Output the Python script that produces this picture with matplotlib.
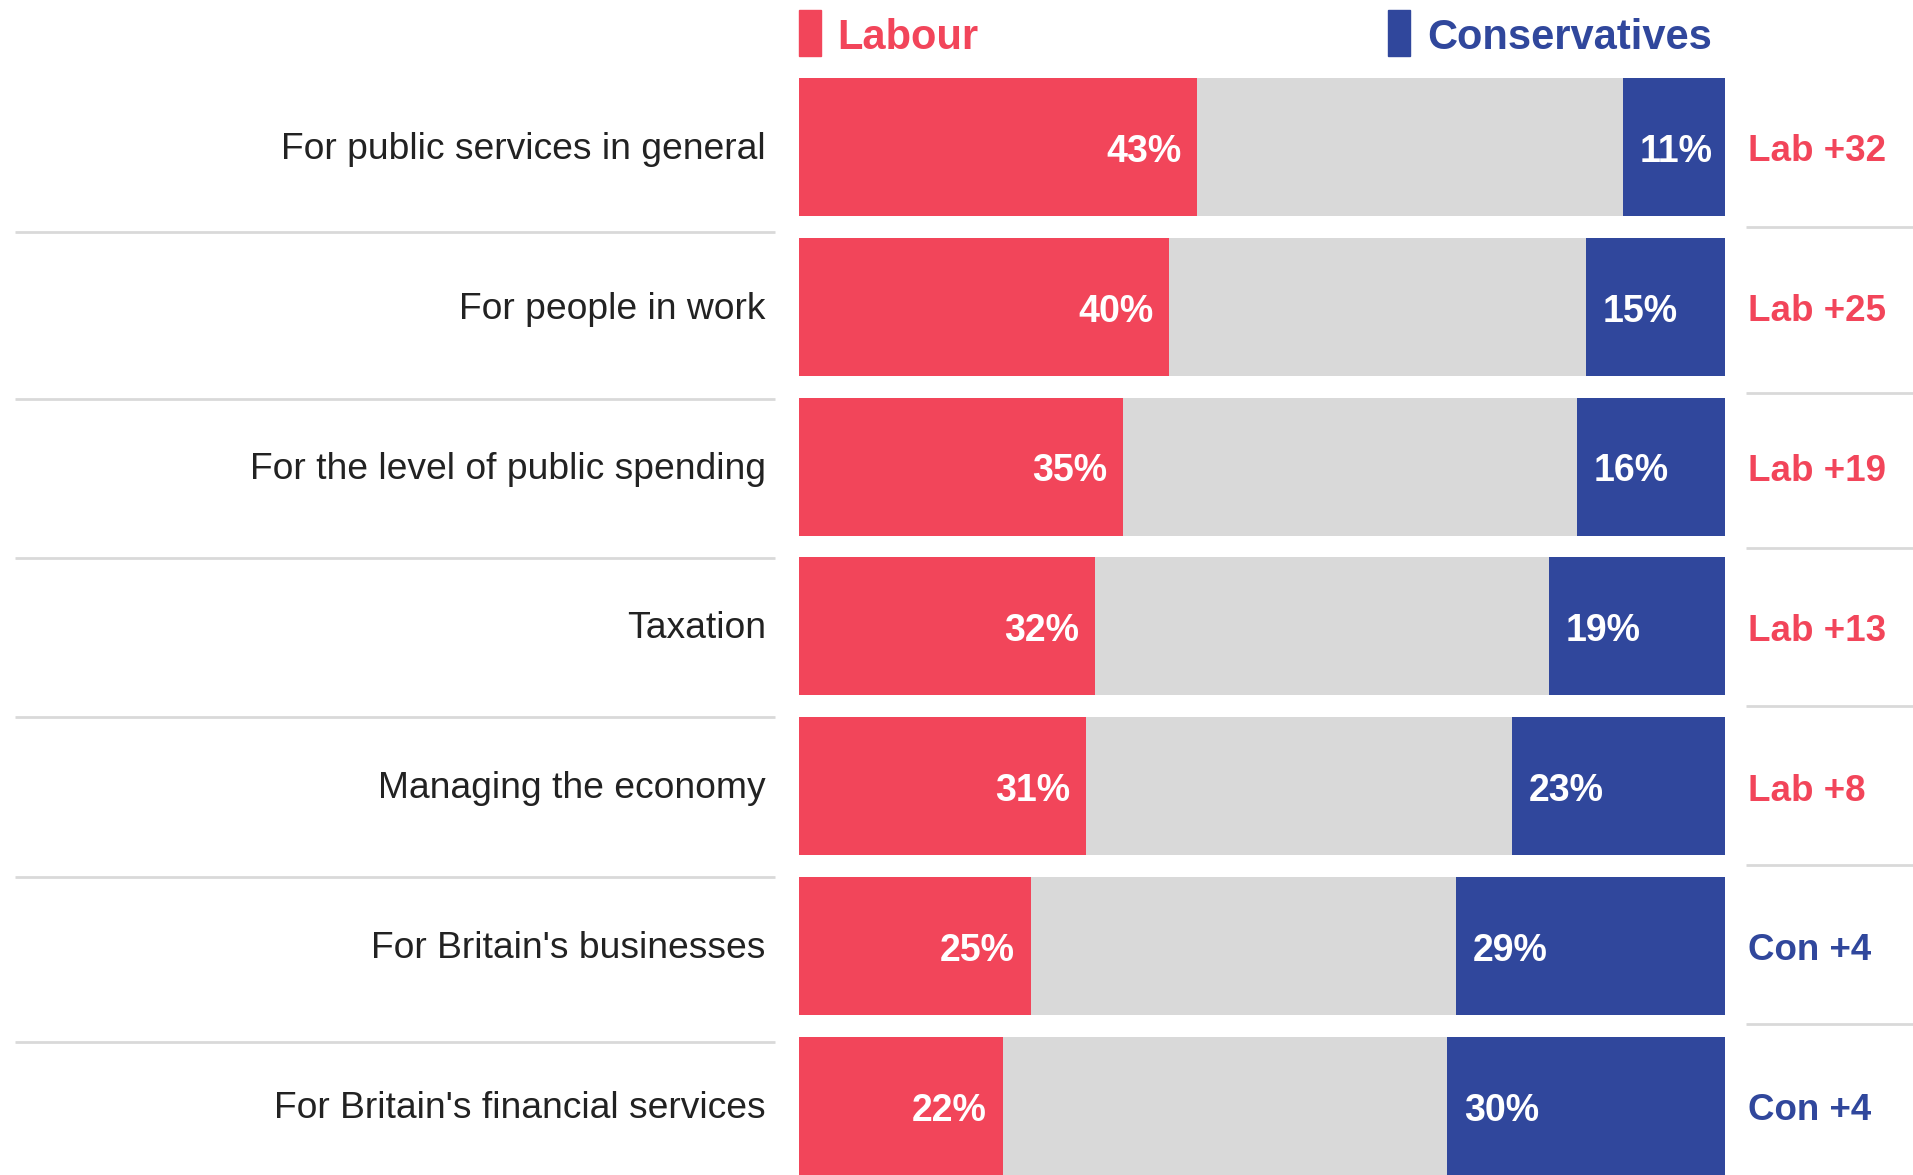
import matplotlib.pyplot as plt
from matplotlib.patches import Rectangle

# Data
categories = ['For public services in general', 'For people in work',
              'For the level of public spending', 'Taxation',
              'Managing the economy', "For Britain's businesses",
              "For Britain's financial services"]
labour = [43, 40, 35, 32, 31, 25, 22]
conservatives = [11, 15, 16, 19, 23, 29, 30]
leads = ['Lab +32', 'Lab +25', 'Lab +19', 'Lab +13', 'Lab +8', 'Con +4', 'Con +4']

RED = '#F2455A'
BLUE = '#30479C'
GREY = '#D9D9D9'
TEXT = '#222222'

plt.rcParams['font.family'] = ['Liberation Sans', 'DejaVu Sans']

W, H = 1913, 1175
fig = plt.figure(figsize=(W / 100, H / 100), dpi=100)
x0, x1 = 799, 1725
ax = fig.add_axes([x0 / W, 0, (x1 - x0) / W, 1])
ax.set_xlim(0, 100)
ax.set_ylim(6.433, -0.92)
ax.axis('off')

rows = list(range(len(categories)))
grey = [100 - l - c for l, c in zip(labour, conservatives)]
h = 0.864
ax.barh(rows, labour, height=h, color=RED)
ax.barh(rows, grey, left=labour, height=h, color=GREY)
ax.barh(rows, conservatives, left=[100 - c for c in conservatives], height=h, color=BLUE)

for i in rows:
    ax.text(labour[i] - 1.7, i + 0.03, f'{labour[i]}%', ha='right', va='center',
            color='white', fontsize=27, fontweight='bold')
    ax.text(100 - conservatives[i] + 1.8, i + 0.03, f'{conservatives[i]}%', ha='left',
            va='center', color='white', fontsize=27, fontweight='bold')
    ax.text(-3.6, i + 0.015, categories[i], ha='right', va='center', color=TEXT,
            fontsize=26.8, clip_on=False)
    col = RED if leads[i].startswith('Lab') else BLUE
    ax.text(102.5, i + 0.03, leads[i], ha='left', va='center', color=col,
            fontsize=26.5, fontweight='bold', clip_on=False)

# separators
left_sep = [0.53, 1.58, 2.57, 3.57, 4.57, 5.60]
right_sep = [0.50, 1.54, 2.51, 3.50, 4.49, 5.49]
for ys in left_sep:
    ax.plot([-84.7, -2.6], [ys, ys], color=GREY, lw=2,
            clip_on=False, solid_capstyle='butt')
for ys in right_sep:
    ax.plot([102.3, 120.5], [ys, ys], color=GREY, lw=2,
            clip_on=False, solid_capstyle='butt')

# legend
ax.add_patch(Rectangle((0, -0.857), 2.4, 0.288, color=RED, clip_on=False))
ax.text(4.1, -0.685, 'Labour', ha='left', va='center', color=RED,
        fontsize=30, fontweight='bold')
ax.add_patch(Rectangle((63.6, -0.857), 2.4, 0.288, color=BLUE, clip_on=False))
ax.text(67.8, -0.685, 'Conservatives', ha='left', va='center', color=BLUE,
        fontsize=30, fontweight='bold')

fig.savefig('out.png', dpi=100)
